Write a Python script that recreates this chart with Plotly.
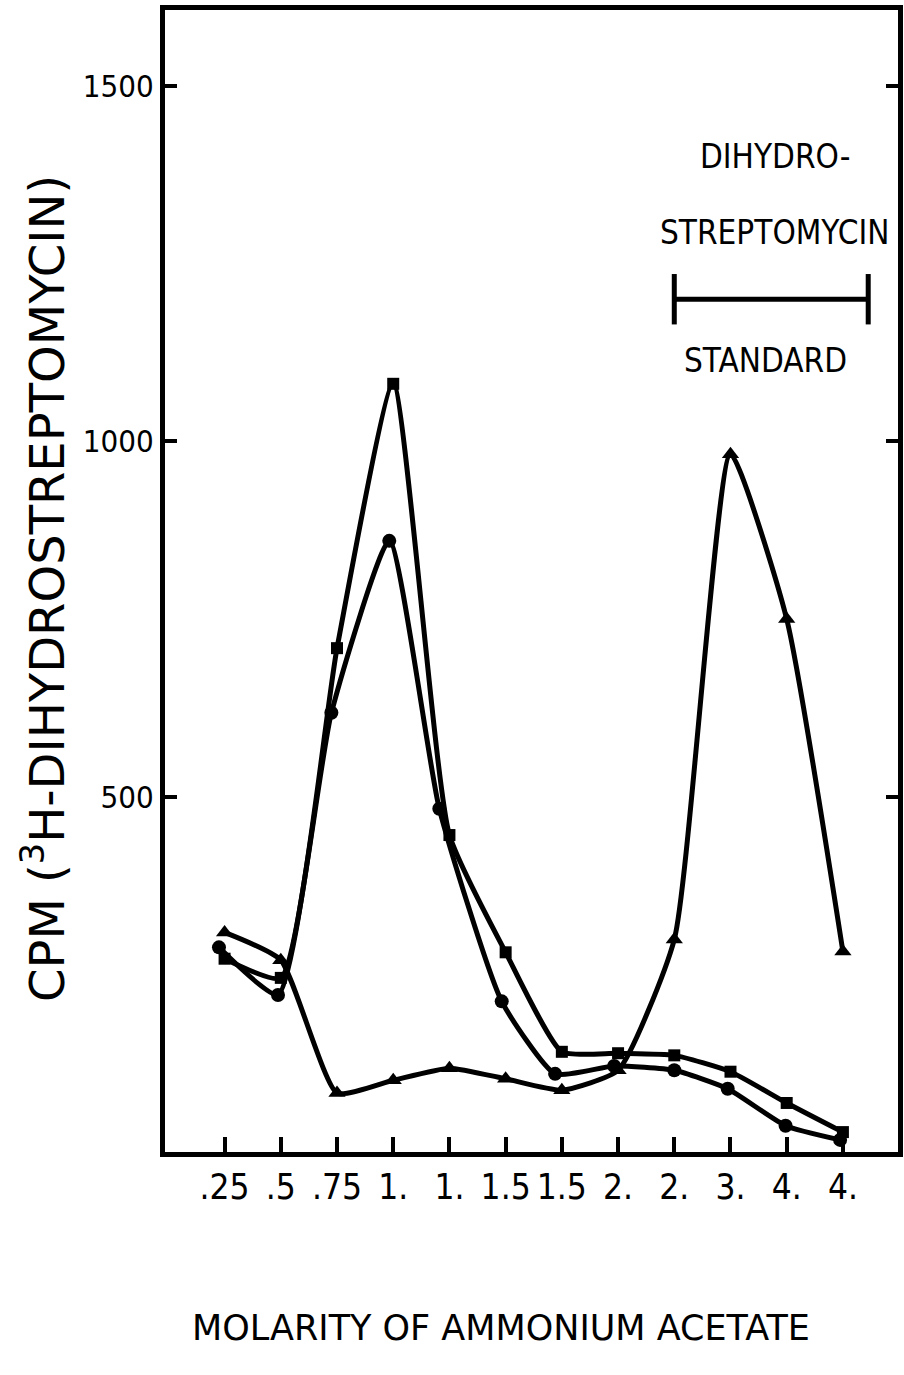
import plotly.graph_objects as go

# Tick labels (molarity of ammonium acetate), one per fraction position
tick_labels = [".25", ".5", ".75", "1.", "1.", "1.5", "1.5", "2.", "2.", "3.", "4.", "4."]
positions = list(range(len(tick_labels)))

# Squares series
square_x = positions
square_y = [272, 245, 709, 1081, 446, 281, 141, 139, 136, 113, 69, 28]

# Circles series (plotted slightly left of the fraction positions, as drawn)
circle_x = [-0.1, 0.95, 1.9, 2.93, 3.82, 4.93, 5.88, 6.93, 8.0, 8.95, 9.98, 10.95]
circle_y = [288, 221, 618, 860, 483, 212, 110, 121, 115, 89, 37, 17]

# Triangles series
triangle_x = positions
triangle_y = [309, 270, 83, 101, 118, 103, 87, 115, 299, 982, 750, 282]

# Dihydrostreptomycin standard elution range
standard_x = [8.0, 11.45]
standard_y = [1200, 1200]

TICK_FONT = "DejaVu Sans Condensed, Liberation Sans Narrow, Arial Narrow, sans-serif"
TITLE_FONT = "DejaVu Sans, Verdana, sans-serif"

fig = go.Figure()

line_style = dict(color="black", width=5, shape="spline", smoothing=0.5)

fig.add_trace(go.Scatter(x=triangle_x, y=triangle_y, mode="lines+markers",
                         line=line_style,
                         marker=dict(symbol="triangle-up", size=15, color="black"),
                         showlegend=False))
fig.add_trace(go.Scatter(x=circle_x, y=circle_y, mode="lines+markers",
                         line=line_style,
                         marker=dict(symbol="circle", size=14, color="black"),
                         showlegend=False))
fig.add_trace(go.Scatter(x=square_x, y=square_y, mode="lines+markers",
                         line=line_style,
                         marker=dict(symbol="square", size=12, color="black"),
                         showlegend=False))

fig.add_trace(go.Scatter(x=standard_x, y=standard_y, mode="lines+markers",
                         line=dict(color="black", width=5),
                         marker=dict(symbol="line-ns", size=36,
                                     line=dict(color="black", width=5)),
                         showlegend=False))

fig.update_layout(
    width=904, height=1375,
    margin=dict(l=165, r=1, t=10, b=223),
    paper_bgcolor="white", plot_bgcolor="white",
    xaxis=dict(range=[-1.06, 11.98], tickmode="array", tickvals=positions,
               ticktext=tick_labels, tickangle=0, ticks="inside", ticklen=15, tickwidth=4,
               tickcolor="black", showline=True, linewidth=5, linecolor="black",
               mirror=True, showgrid=False, zeroline=False,
               tickfont=dict(family=TICK_FONT, size=35, color="black")),
    yaxis=dict(range=[0, 1607], tickmode="array", tickvals=[500, 1000, 1500],
               ticktext=["500", "1000", "1500"], ticks="inside", ticklen=12,
               tickwidth=4, tickcolor="black", showline=True, linewidth=5,
               linecolor="black", mirror="ticks", showgrid=False, zeroline=False,
               tickfont=dict(family=TICK_FONT, size=31, color="black")),
    annotations=[
        dict(text="CPM (<sup>3</sup>H-DIHYDROSTREPTOMYCIN)", xref="paper", yref="paper",
             x=-0.165, y=0.493, textangle=-90, showarrow=False,
             xanchor="center", yanchor="middle",
             font=dict(family=TITLE_FONT, size=48, color="black")),
        dict(text="MOLARITY OF AMMONIUM ACETATE", xref="paper", yref="paper",
             x=0.458, y=-0.154, showarrow=False, xanchor="center", yanchor="middle",
             font=dict(family=TITLE_FONT, size=35, color="black")),
        dict(text="DIHYDRO-", xref="paper", yref="paper",
             x=(780 - 165) / 738, y=(1152 - 157) / 1142, showarrow=False,
             xanchor="center", yanchor="middle",
             font=dict(family=TICK_FONT, size=33, color="black")),
        dict(text="STREPTOMYCIN", xref="paper", yref="paper",
             x=(779 - 165) / 738, y=(1152 - 232) / 1142, showarrow=False,
             xanchor="center", yanchor="middle",
             font=dict(family=TICK_FONT, size=33, color="black")),
        dict(text="STANDARD", xref="paper", yref="paper",
             x=(770 - 165) / 738, y=(1152 - 360) / 1142, showarrow=False,
             xanchor="center", yanchor="middle",
             font=dict(family=TICK_FONT, size=33, color="black")),
    ],
)

fig.write_html("out.html")
